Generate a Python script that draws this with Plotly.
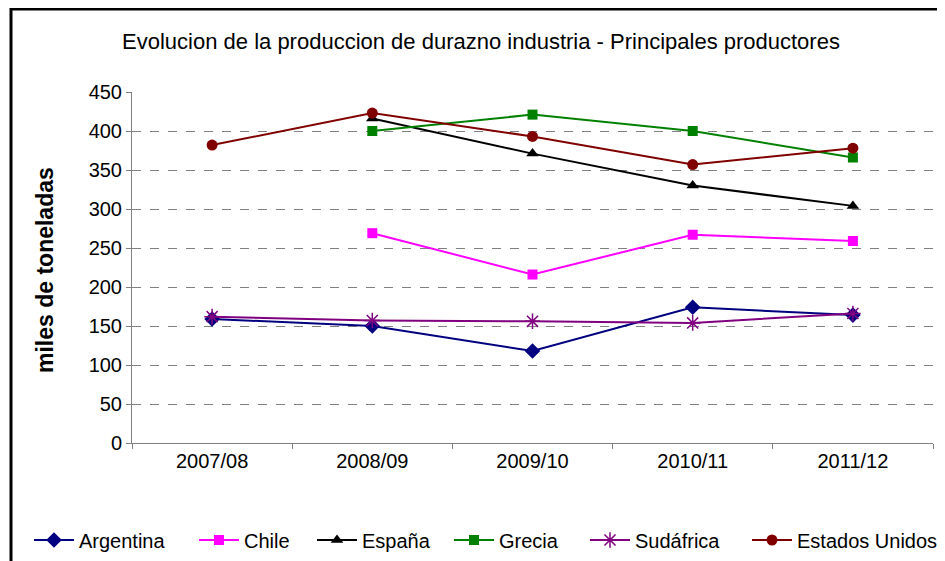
import plotly.graph_objects as go

seasons = ["2007/08", "2008/09", "2009/10", "2010/11", "2011/12"]
argentina = [159, 150, 118, 174, 164]
chile = [None, 269, 216, 267, 259]
espana = [None, 416, 371, 330, 304]
grecia = [None, 400, 421, 400, 366]
sudafrica = [162, 157, 156, 154, 166]
estados_unidos = [382, 423, 393, 357, 378]

series = [
    ("Argentina", argentina, "#000080", "diamond", 12),
    ("Chile", chile, "#FF00FF", "square", 10),
    ("España", espana, "#000000", "triangle-up", 11),
    ("Grecia", grecia, "#008000", "square", 10),
    ("Sudáfrica", sudafrica, "#800080", "asterisk-open", 13),
    ("Estados Unidos", estados_unidos, "#800000", "circle", 11),
]

FONT = "Liberation Sans, Arial, sans-serif"

# The page adds an 8px body margin, so the figure is drawn 8px smaller
# and every reference position is shifted by that offset.
OFF = 8
W, H = 945 - OFF, 561 - OFF
PLOT_L, PLOT_R, PLOT_T, PLOT_B = 132, 933, 92, 443   # reference pixels
L, T = PLOT_L - OFF, PLOT_T - OFF
R, B = W - (PLOT_R - OFF), H - (PLOT_B - OFF)
pw, ph = W - L - R, H - T - B

def px(x):
    return (x - OFF - L) / pw

def py(y):
    return (H - B - (y - OFF)) / ph

legend_text_x = [79, 244, 362, 499, 635, 797]
ITEMW = 40
TEXT_OFF = ITEMW + 10

fig = go.Figure()
legend_layouts = {}
for i, (name, vals, color, sym, size) in enumerate(series):
    lname = "legend" if i == 0 else f"legend{i + 1}"
    if sym == "asterisk-open":
        marker = dict(symbol=sym, size=size, color=color, line=dict(color=color, width=1.5))
    else:
        marker = dict(symbol=sym, size=size, color=color, line=dict(color=color, width=0))
    fig.add_trace(go.Scatter(
        x=seasons, y=vals, name=name, mode="lines+markers",
        line=dict(color=color, width=2),
        marker=marker, connectgaps=False, legend=lname,
    ))
    legend_layouts[lname] = dict(
        orientation="h", x=px(legend_text_x[i] - TEXT_OFF), xanchor="left",
        y=py(540), yanchor="middle", bgcolor="rgba(0,0,0,0)", borderwidth=0,
        font=dict(size=20, family=FONT, color="black"), itemwidth=ITEMW,
    )

fig.update_layout(
    width=W, height=H,
    margin=dict(l=L, r=R, t=T, b=B, pad=0, autoexpand=False),
    paper_bgcolor="white", plot_bgcolor="white",
    font=dict(family=FONT, size=20, color="black"),
    title=dict(text="Evolucion de la produccion de durazno industria - Principales productores",
               x=(481 - OFF) / W, xanchor="center", y=1 - (41 - OFF) / H, yanchor="middle",
               font=dict(size=22, family=FONT, color="black")),
    showlegend=True,
    xaxis=dict(type="category", range=[-0.5, 4.5], showline=True, linecolor="#808080", linewidth=1,
               ticks="outside", ticklen=5, tickcolor="#808080", tickson="boundaries",
               showgrid=False, zeroline=False, tickfont=dict(size=20, family=FONT),
               automargin=False),
    yaxis=dict(range=[0, 450], dtick=50, showline=True, linecolor="#808080", linewidth=1,
               ticks="outside", ticklen=5, tickcolor="#808080",
               showgrid=True, gridcolor="#808080", griddash="dash", gridwidth=1,
               zeroline=False, tickfont=dict(size=20, family=FONT), automargin=False),
    annotations=[dict(text="<b>miles de toneladas</b>", x=px(45), y=py(270), xref="paper", yref="paper",
                      textangle=-90, showarrow=False, xanchor="center", yanchor="middle",
                      font=dict(size=23, family=FONT, color="black"))],
    shapes=[dict(type="rect", xref="paper", yref="paper",
                 x0=px(11), x1=px(960), y0=py(580), y1=py(9),
                 line=dict(color="black", width=3), fillcolor="rgba(0,0,0,0)", layer="below")],
    **legend_layouts,
)

fig.write_html("out.html")
